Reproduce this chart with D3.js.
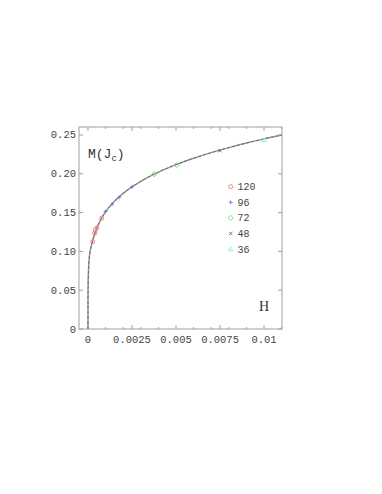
<!DOCTYPE html>
<html><head><meta charset="utf-8">
<script src="https://cdn.jsdelivr.net/npm/d3@7"></script>
<style>body{margin:0;background:#fff}</style>
</head><body>
<script>
// curve
const curveH = [0, 0.000001, 0.00001, 0.00003, 0.00006, 0.0001, 0.0002, 0.0004, 0.0007, 0.001, 0.0015, 0.002, 0.0025, 0.003, 0.004, 0.005, 0.006, 0.007, 0.008, 0.009, 0.01, 0.011];
const curveM = [0, 0.040, 0.060, 0.076, 0.088, 0.097, 0.108, 0.124, 0.140, 0.151, 0.1645, 0.1747, 0.1831, 0.1903, 0.2021, 0.2118, 0.220, 0.2273, 0.2337, 0.2396, 0.245, 0.2499];

const seriesNames = ["120", "96", "72", "48", "36"];
const s120H = [0.000267, 0.00038, 0.000415, 0.00051, 0.00078];
const s120M = [0.1125, 0.1233, 0.1276, 0.1305, 0.1427];
const s96H = [0.000994, 0.001364, 0.00176, 0.00251];
const s96M = [0.1514, 0.1607, 0.1695, 0.1834];
const s72H = [0.00376, 0.00504];
const s72M = [0.1994, 0.2113];
const s48H = [0.0075];
const s48M = [0.2298];
const s36H = [0.01];
const s36M = [0.2436];

const xMajor = [0, 0.0025, 0.005, 0.0075, 0.01];
const xMajorLabels = ["0", "0.0025", "0.005", "0.0075", "0.01"];
const xMinor = [0.001, 0.002, 0.003, 0.004, 0.006, 0.007, 0.008, 0.009, 0.011];
const yMajor = [0, 0.05, 0.10, 0.15, 0.20, 0.25];
const yMajorLabels = ["0", "0.05", "0.10", "0.15", "0.20", "0.25"];

const W = 382, H = 494;
const L = 79, R = 282, T = 127, B = 329;
const svg = d3.select("body").append("svg").attr("width", W).attr("height", H);

const x = d3.scaleLinear().domain([-0.000511, 0.01102]).range([L, R]);
const y = d3.scaleLinear().domain([0, 0.2603]).range([B, T]);

const mono = "'Liberation Mono', 'DejaVu Sans Mono', monospace";
const frameCol = "#a0a0a0";

// frame
svg.append("rect").attr("x", L).attr("y", T).attr("width", R - L).attr("height", B - T)
  .attr("fill", "none").attr("stroke", frameCol).attr("stroke-width", 1);

const g = svg.append("g");
xMajor.forEach(v => {
  g.append("line").attr("x1", x(v)).attr("x2", x(v)).attr("y1", B).attr("y2", B - 4).attr("stroke", frameCol);
  g.append("line").attr("x1", x(v)).attr("x2", x(v)).attr("y1", T).attr("y2", T + 4).attr("stroke", frameCol);
});
xMinor.forEach(v => {
  g.append("line").attr("x1", x(v)).attr("x2", x(v)).attr("y1", B).attr("y2", B - 2).attr("stroke", frameCol);
  g.append("line").attr("x1", x(v)).attr("x2", x(v)).attr("y1", T).attr("y2", T + 2).attr("stroke", frameCol);
});
yMajor.forEach(v => {
  g.append("line").attr("x1", L).attr("x2", L + 4).attr("y1", y(v)).attr("y2", y(v)).attr("stroke", frameCol);
  g.append("line").attr("x1", R).attr("x2", R - 4).attr("y1", y(v)).attr("y2", y(v)).attr("stroke", frameCol);
});
xMajor.forEach((v, i) => {
  svg.append("text").attr("x", x(v)).attr("y", 343).attr("text-anchor", "middle")
    .attr("font-family", mono).attr("font-size", 10.5).attr("fill", "#444").text(xMajorLabels[i]);
});
yMajor.forEach((v, i) => {
  svg.append("text").attr("x", 76).attr("y", y(v) + 3.5).attr("text-anchor", "end")
    .attr("font-family", mono).attr("font-size", 10.5).attr("fill", "#444").text(yMajorLabels[i]);
});

// curve
const pts = curveH.map((h, i) => [h, curveM[i]]);
const line = d3.line().x(d => x(d[0])).y(d => y(d[1])).curve(d3.curveMonotoneX);
svg.append("clipPath").attr("id", "c").append("rect").attr("x", L).attr("y", T).attr("width", R - L).attr("height", B - T);
svg.append("path").attr("d", line(pts)).attr("fill", "none").attr("stroke", "#9a9a9a").attr("stroke-width", 1.5).attr("clip-path", "url(#c)");
svg.append("path").attr("d", line(pts)).attr("fill", "none").attr("stroke", "#555").attr("stroke-width", 0.7)
  .attr("stroke-dasharray", "3,2").attr("clip-path", "url(#c)");

// markers
const sym = {
  "120": (sx, sy, c) => svg.append("circle").attr("cx", sx).attr("cy", sy).attr("r", 2).attr("fill", "none").attr("stroke", c).attr("stroke-width", 0.9),
  "96": (sx, sy, c) => svg.append("path").attr("d", `M${sx-2},${sy}H${sx+2}M${sx},${sy-2}V${sy+2}`).attr("stroke", c).attr("stroke-width", 0.9),
  "72": (sx, sy, c) => svg.append("path").attr("d", `M${sx},${sy-2.6}L${sx+2.6},${sy}L${sx},${sy+2.6}L${sx-2.6},${sy}Z`).attr("fill", "none").attr("stroke", c).attr("stroke-width", 0.9),
  "48": (sx, sy, c) => svg.append("path").attr("d", `M${sx-1.7},${sy-1.7}L${sx+1.7},${sy+1.7}M${sx+1.7},${sy-1.7}L${sx-1.7},${sy+1.7}`).attr("stroke", c).attr("stroke-width", 0.9),
  "36": (sx, sy, c) => svg.append("path").attr("d", `M${sx},${sy-2.2}L${sx+2.2},${sy+1.6}L${sx-2.2},${sy+1.6}Z`).attr("fill", "none").attr("stroke", c).attr("stroke-width", 0.9)
};
const colors = {"120": "#f07878", "96": "#7070ff", "72": "#66e066", "48": "#666", "36": "#78f0f0"};
const data = {"120": [s120H, s120M], "96": [s96H, s96M], "72": [s72H, s72M], "48": [s48H, s48M], "36": [s36H, s36M]};
seriesNames.forEach(n => {
  const [hs, ms] = data[n];
  hs.forEach((h, i) => sym[n](x(h), y(ms[i]), colors[n]));
});

// legend
seriesNames.forEach((n, i) => {
  const ly = 186.7 + i * 15.6;
  sym[n](230.7, ly, colors[n]);
  svg.append("text").attr("x", 237.5).attr("y", ly + 3.5).attr("font-family", mono).attr("font-size", 10)
    .attr("fill", "#444").text(n);
});

// axis labels
const yl = svg.append("text").attr("x", 88).attr("y", 158).attr("font-family", mono).attr("font-size", 13).attr("fill", "#333");
yl.append("tspan").text("M(J");
yl.append("tspan").attr("font-size", 9).attr("dy", 3).text("c");
yl.append("tspan").attr("dy", -3).text(")");
svg.append("text").attr("x", 264).attr("y", 311).attr("text-anchor", "middle").attr("font-family", "'Liberation Serif', serif")
  .attr("font-size", 14).attr("fill", "#333").text("H");
</script>
</body></html>
